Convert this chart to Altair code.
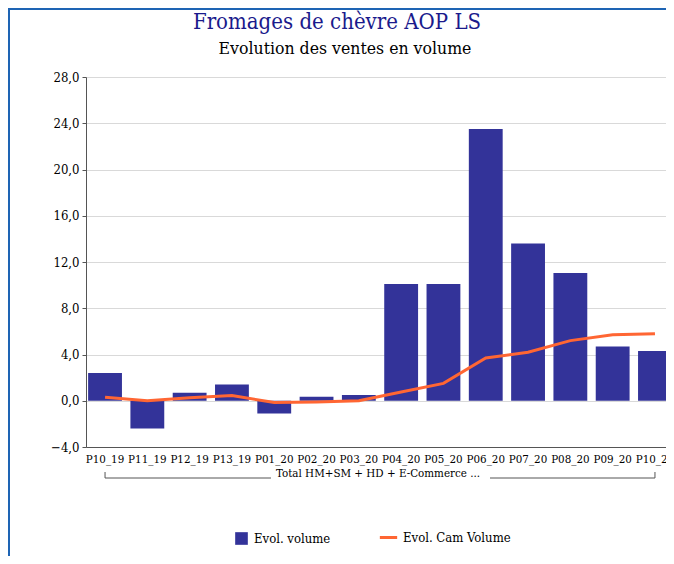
import altair as alt
import pandas as pd

categories = ["P10_19", "P11_19", "P12_19", "P13_19", "P01_20", "P02_20", "P03_20",
              "P04_20", "P05_20", "P06_20", "P07_20", "P08_20", "P09_20", "P10_20"]
evol_volume = [2.4, -2.4, 0.7, 1.4, -1.1, 0.35, 0.5, 10.1, 10.1, 23.5, 13.6, 11.05, 4.7, 4.3]
evol_cam = [0.3, 0.0, 0.25, 0.45, -0.15, -0.1, 0.0, 0.75, 1.5, 3.7, 4.2, 5.2, 5.7, 5.8]
y_ticks = [-4, 0, 4, 8, 12, 16, 20, 24, 28]

FONT = "DejaVu Serif Condensed, DejaVu Serif"
BAR = "#333399"
LINE = "#ff6633"

df = pd.DataFrame({"cat": categories, "vol": evol_volume, "cam": evol_cam,
                   "s1": ["Evol. volume"] * len(categories),
                   "s2": ["Evol. Cam Volume"] * len(categories)})

xscale = alt.Scale(domain=categories, range=[0, 588], paddingInner=0.2, paddingOuter=0.05)
yscale = alt.Scale(domain=[-4, 28], nice=False)

x = alt.X("cat:N", scale=xscale, sort=categories, title=None,
          axis=alt.Axis(labelAngle=0, labelFontSize=11.5, ticks=False, labelPadding=6,
                        labelOverlap=False, grid=False))

bars = alt.Chart(df).mark_bar(color=BAR).encode(
    x=x,
    y=alt.Y("vol:Q", scale=yscale, title=None,
            axis=alt.Axis(values=y_ticks, labelExpr="replace(format(datum.value, '.1f'), '.', ',')",
                          labelFontSize=13, tickSize=4, labelPadding=3)),
    fill=alt.Fill("s1:N", scale=alt.Scale(domain=["Evol. volume"], range=[BAR]),
                  legend=alt.Legend(title=None, orient="none", legendX=148, legendY=454,
                                    symbolType="square", symbolSize=160, labelFont=FONT,
                                    labelFontSize=13, labelColor="#000", padding=0, labelOffset=5)),
)

line = alt.Chart(df).mark_line(strokeWidth=3).encode(
    x=alt.X("cat:N", scale=xscale, sort=categories),
    y=alt.Y("cam:Q", scale=yscale),
    stroke=alt.Stroke("s2:N", scale=alt.Scale(domain=["Evol. Cam Volume"], range=[LINE]),
                      legend=alt.Legend(title=None, orient="none", legendX=292, legendY=450,
                                        symbolType="stroke", symbolSize=300, symbolStrokeWidth=3,
                                        labelFont=FONT, labelFontSize=13, labelColor="#000",
                                        padding=0, labelOffset=4)),
)

# group label bracket under x axis
br = pd.DataFrame({"a": [categories[0]], "b": [categories[-1]]})
left_seg = alt.Chart(br).mark_rule(color="#555").encode(
    x=alt.X("a:N", scale=xscale), x2=alt.value(185), y=alt.value(401))
right_seg = alt.Chart(br).mark_rule(color="#555").encode(
    x=alt.X("b:N", scale=xscale), x2=alt.value(404), y=alt.value(401))
left_tick = alt.Chart(br).mark_rule(color="#555").encode(
    x=alt.X("a:N", scale=xscale), y=alt.value(395), y2=alt.value(401))
right_tick = alt.Chart(br).mark_rule(color="#555").encode(
    x=alt.X("b:N", scale=xscale), y=alt.value(395), y2=alt.value(401))
grp_text = alt.Chart(pd.DataFrame({"t": ["Total HM+SM + HD + E-Commerce ..."]})).mark_text(
    font=FONT, fontSize=11.5, color="#000", align="center", baseline="middle").encode(
    text="t:N", x=alt.value(292), y=alt.value(397))

title = alt.Chart(pd.DataFrame({"t": ["Fromages de chèvre AOP LS"]})).mark_text(
    font=FONT, fontSize=22, color="#1a1a8c", align="center", baseline="middle").encode(
    text="t:N", x=alt.value(251), y=alt.value(-55))
subtitle = alt.Chart(pd.DataFrame({"t": ["Evolution des ventes en volume"]})).mark_text(
    font=FONT, fontSize=17.5, color="#000", align="center", baseline="middle").encode(
    text="t:N", x=alt.value(259), y=alt.value(-28))

frame_top = alt.Chart(br).mark_rule(color="#1e64b4", strokeWidth=2).encode(
    x=alt.value(-78), x2=alt.value(700), y=alt.value(-68))
frame_left = alt.Chart(br).mark_rule(color="#1e64b4", strokeWidth=2).encode(
    x=alt.value(-77), y=alt.value(-69), y2=alt.value(600))

chart = alt.layer(bars, line, left_seg, right_seg, left_tick, right_tick, grp_text,
                  title, subtitle, frame_top, frame_left).resolve_scale(
    fill="independent", stroke="independent").properties(
    width=580, height=370, autosize=alt.AutoSizeParams(type="none"),
    padding={"left": 78, "top": 69, "right": 0, "bottom": 109}
).configure_view(stroke=None).configure_axis(
    labelFont=FONT, labelColor="#000", domainColor="#555", tickColor="#555",
    gridColor="#d9d9d9"
)

chart.save("out.html", embed_options={"renderer": "svg", "actions": False})
